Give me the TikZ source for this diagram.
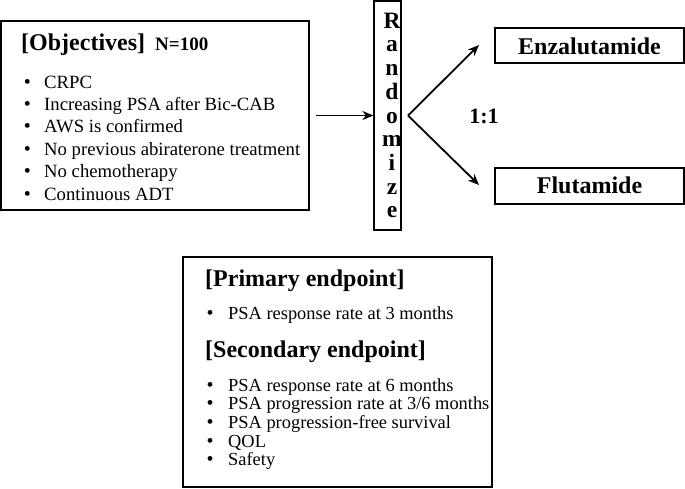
\documentclass[tikz,border=0pt]{standalone}
\usepackage{fontspec}
\setmainfont{Liberation Serif}
\usetikzlibrary{arrows.meta}
\begin{document}
\begin{tikzpicture}[x=1pt,y=-1pt,
  box/.style={draw, line width=1.2pt, inner sep=0pt},
  txt/.style={anchor=base west, inner sep=0pt, font=\fontsize{18.7}{18.7}\selectfont},
  txtb/.style={anchor=base west, inner sep=0pt, font=\fontsize{18.4}{18.4}\selectfont},
  bul/.style={anchor=base, inner sep=0pt, font=\fontsize{20}{20}\selectfont},
  head/.style={anchor=base west, inner sep=0pt, font=\fontsize{24}{24}\selectfont\bfseries},
  arr/.style={line width=1.8pt, -{Stealth[length=11pt,width=9pt]}}]
\useasboundingbox (0,0) rectangle (685,488);
% boxes
\node[box, minimum width=308pt, minimum height=189pt] (obj) at (155,115.5) {};
\node[box, minimum width=27pt, minimum height=229pt] (rand) at (387.5,115.5) {};
\node[inner sep=0pt, align=center, font=\fontsize{23.5}{23.7}\selectfont\bfseries] (randtxt) at (392,115.5) {R\\a\\n\\d\\o\\m\\i\\z\\e};
\node[box, minimum width=189pt, minimum height=35pt] (enz) at (589.5,45.5) {};
\node[box, minimum width=189pt, minimum height=36pt] (flu) at (589.5,186) {};
\node[box, minimum width=309pt, minimum height=230pt] (end) at (337.5,372) {};
% objectives
\node[head] (objh) at (21,50) {[Objectives]};
\node[anchor=base west, inner sep=0pt, font=\fontsize{19}{19}\selectfont\bfseries] (n100) at (155,50) {N=100};
\foreach \t [count=\i from 0] in {CRPC,Increasing PSA after Bic-CAB,AWS is confirmed,No previous abiraterone treatment,No chemotherapy,Continuous ADT}{
  \node[bul] (ob\i) at (27.5,{88+22.4*\i}) {\textbullet};
  \node[txt] (ot\i) at (44,{88+22.4*\i}) {\t};
}
% arms
\node[anchor=base, inner sep=0pt, font=\fontsize{24}{24}\selectfont\bfseries] (enzt) at (589.5,54) {Enzalutamide};
\node[anchor=base, inner sep=0pt, font=\fontsize{24}{24}\selectfont\bfseries] (flut) at (589.5,193) {Flutamide};
\node[anchor=base, inner sep=0pt, font=\fontsize{22}{22}\selectfont\bfseries] (ratio) at (484,123) {1:1};
% arrows
\coordinate (fork) at (408,115.5);
\coordinate (enzend) at (479,45);
\coordinate (fluend) at (479,185);
\draw[arr, shorten <=6pt] (obj.east) -- (rand.west);
\draw[arr] (fork) -- (enzend);
\draw[arr] (fork) -- (fluend);
% endpoints
\node[head] (prim) at (205,286) {[Primary endpoint]};
\node[bul] (pb) at (210,319) {\textbullet};
\node[txtb] (pt) at (228,319) {PSA response rate at 3 months};
\node[head] (sec) at (205,357) {[Secondary endpoint]};
\foreach \t [count=\i from 0] in {PSA response rate at 6 months,PSA progression rate at 3/6 months,PSA progression-free survival,QOL,Safety}{
  \node[bul] (sb\i) at (210,{391+18.7*\i}) {\textbullet};
  \node[txtb] (st\i) at (228,{391+18.7*\i}) {\t};
}
\end{tikzpicture}
\end{document}
